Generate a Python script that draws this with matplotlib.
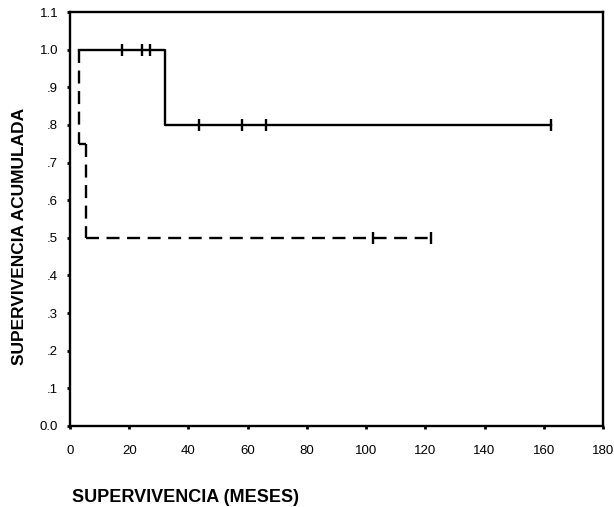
import matplotlib.pyplot as plt

plt.rcParams['font.family'] = ['Liberation Sans', 'DejaVu Sans']

# curva 1 (linea continua)
t_cont = [2.9, 32.0, 32.0, 162.4]
s_cont = [1.0, 1.0, 0.8, 0.8]
cens_cont_t = [17.6, 24.3, 26.9, 43.5, 58.0, 66.1, 162.4]
cens_cont_s = [1.0, 1.0, 1.0, 0.8, 0.8, 0.8, 0.8]

# curva 2 (linea discontinua)
t_disc = [2.9, 2.9, 5.4, 5.4, 122.0]
s_disc = [1.0, 0.75, 0.75, 0.5, 0.5]
cens_disc_t = [102.2, 121.9]
cens_disc_s = [0.5, 0.5]

x_ticks = [0, 20, 40, 60, 80, 100, 120, 140, 160, 180]
y_ticks = [0.0, 0.1, 0.2, 0.3, 0.4, 0.5, 0.6, 0.7, 0.8, 0.9, 1.0, 1.1]
y_labels = ['0.0', '.1', '.2', '.3', '.4', '.5', '.6', '.7', '.8', '.9', '1.0', '1.1']

fig = plt.figure(figsize=(6.14, 5.07), dpi=100)
ax = fig.add_axes([0.1140, 0.1598, 0.8681, 0.8165])

ax.plot(t_cont, s_cont, color='black', lw=1.7)
ax.plot(cens_cont_t, cens_cont_s, ls='none', marker='|', ms=8, mew=1.7, color='black')
# cada tramo por separado, asi el patron de guiones empieza de nuevo en cada escalon
for i in range(len(t_disc) - 1):
    ax.plot(t_disc[i:i + 2], s_disc[i:i + 2], color='black', lw=1.7, dashes=(5.5, 3.2))
ax.plot(cens_disc_t, cens_disc_s, ls='none', marker='|', ms=8, mew=1.7, color='black')

ax.set_xlim(0, 180)
ax.set_ylim(0, 1.1)
ax.set_xticks(x_ticks)
ax.set_yticks(y_ticks)
ax.set_yticklabels(y_labels)
ax.tick_params(axis='both', direction='out', length=2, width=2, labelsize=9.5, colors='black')
ax.tick_params(axis='x', pad=12)
ax.tick_params(axis='y', pad=6.5)
for s in ax.spines.values():
    s.set_linewidth(1.7)

fig.text(0.031, 0.533, 'SUPERVIVENCIA ACUMULADA', rotation=90, ha='center', va='center',
         fontsize=12.5, fontweight='bold')
fig.text(0.117, 0.019, 'SUPERVIVENCIA (MESES)', ha='left', va='center',
         fontsize=13, fontweight='bold')

plt.savefig('out.png', dpi=100)
